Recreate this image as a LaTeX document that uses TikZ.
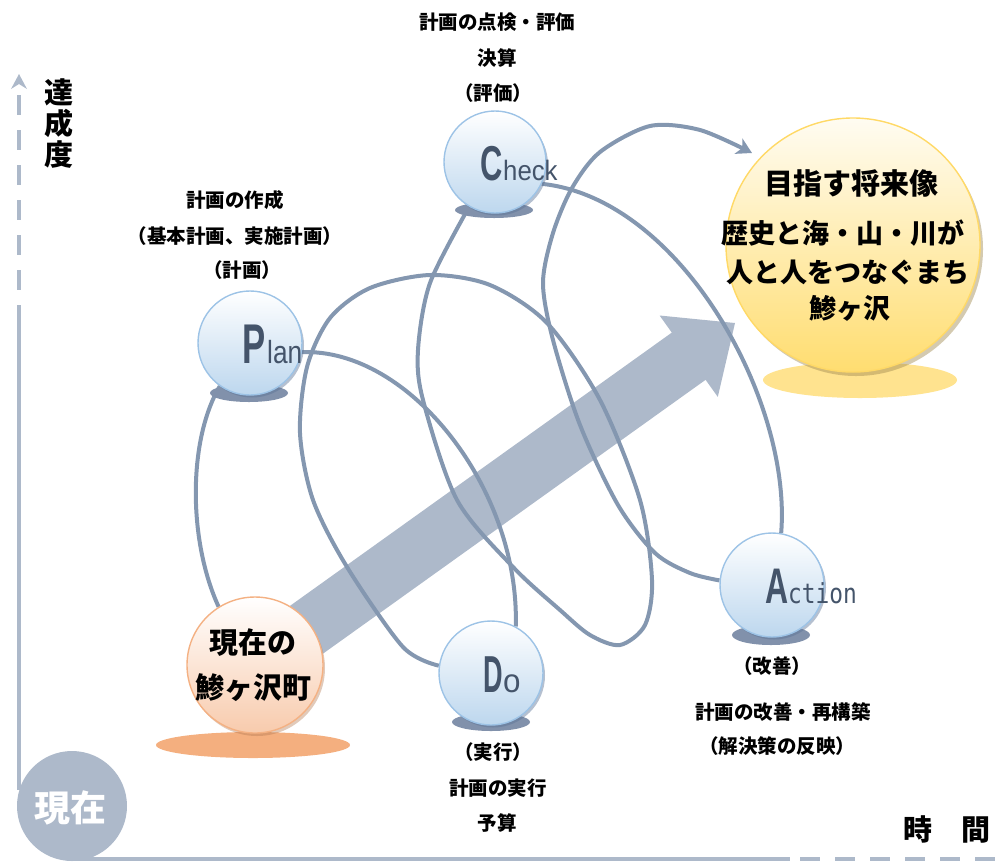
\documentclass[tikz,border=0pt]{standalone}
\usepackage{fontspec}
\usepackage{graphicx}
\newfontfamily\jp{Noto Sans CJK JP}
\newfontfamily\lat{Liberation Sans}
\newfontfamily\mono{DejaVu Sans Mono}
\usetikzlibrary{arrows.meta,shadows}
\definecolor{axisc}{HTML}{ADB9CA}
\definecolor{loopc}{HTML}{8497B0}
\definecolor{arrowc}{HTML}{ADB9CA}
\definecolor{shad}{HTML}{8191AB}
\definecolor{cirb}{HTML}{9DC3E6}
\definecolor{cirf}{HTML}{BDD7EE}
\definecolor{bshadow}{HTML}{5B7396}
\definecolor{txtc}{HTML}{44546A}
\definecolor{orgb}{HTML}{F4B183}
\definecolor{orgf}{HTML}{F8CBAD}
\definecolor{orgs}{HTML}{F4AF7F}
\definecolor{oshadow}{HTML}{B57A52}
\definecolor{yelb}{HTML}{FFD966}
\definecolor{yelf}{HTML}{FFDD70}
\definecolor{yels}{HTML}{FFE38F}
\definecolor{yshadow}{HTML}{A08A50}
\definecolor{yeltop}{HTML}{FFFCF2}
\begin{document}
\begin{tikzpicture}[x=1pt,y=-1pt,
  axisline/.style={draw=axisc, line width=4.5pt},
  loopline/.style={draw=loopc, line width=4pt},
  ball/.style={circle, inner sep=0pt, minimum size=#1, line width=1.4pt},
  blueball/.style={ball=#1, draw=cirb, top color=white, bottom color=cirf,
     drop shadow={shadow xshift=2pt, shadow yshift=-2.5pt, fill=bshadow, opacity=0.45}},
  lab/.style={inner sep=0pt, font=\jp\bfseries\fontsize{19.5}{22}\selectfont},
  bigletter/.style={anchor=base west, inner sep=0pt, text=txtc, font=\lat\bfseries\fontsize{#1}{#1}\selectfont},
  smallletter/.style={anchor=base west, inner sep=0pt, text=txtc, font=\lat\fontsize{#1}{#1}\selectfont},
]
\useasboundingbox (0,0) rectangle (1000,863);

% axes
\fill[axisc] (19,74) -- (27,89) -- (19,84) -- (11,89) -- cycle;
\draw[axisline, dash pattern=on 20pt off 15pt] (19,95) -- (19,320);
\draw[axisline] (19,320) -- (19,790);
\draw[axisline] (70,859) -- (790,859);
\draw[axisline, dash pattern=on 20pt off 15pt] (800,859) -- (1000,859);
\node[circle, fill=axisc, inner sep=0pt, minimum size=110pt] (now) at (72,806) {};
\node[text=white, inner sep=0pt, font=\jp\bfseries\fontsize{36}{36}\selectfont] (nowt) at (70,808) {現在};

\node[inner sep=0pt, align=center, font=\jp\bfseries\fontsize{29}{31}\selectfont] (ylab) at (59,124) {達\\成\\度};
\node[inner sep=0pt, font=\jp\bfseries\fontsize{29}{29}\selectfont] (xlab) at (947,829) {時　間};

% big arrow
\fill[arrowc] (249.0,635.2) -- (671.8,332.6) -- (659.6,315.5) -- (735,323) -- (717.8,396.9) -- (705.6,379.8) -- (282.8,682.4) -- cycle;

% circle nodes (positions needed for loops)
\path (250,343) node[ball=104pt] (plan) {};
\path (495,162) node[ball=102pt] (check) {};
\path (491,673) node[ball=104pt] (doo) {};
\path (772,585) node[ball=104pt] (act) {};
\path (255,665) node[ball=136pt] (cur) {};
\path (853,245) node[ball=254pt] (goal) {};
\coordinate (goalin) at (752,153);

% loops
\draw[loopline] (cur.122) .. controls (188,540) and (188,440) .. (plan.235);
\draw[loopline] (plan.-10) .. controls (410,348) and (520,490) .. (doo.62);
\draw[loopline] plot[smooth] coordinates {(doo.172) (403,647) (347,567) (313,500) (300,433) (307,367) (330,318) (370,288) (430,275) (490,285) (547,323) (600,400) (640,500) (652,580) (645,625) (620,645) (590,635) (560,610) (513,567) (457,500) (423,400) (418,350) (430,283) (check.240)};
\draw[loopline] (check.-25) .. controls (680,198) and (792,400) .. (act.80);
\draw[loopline, -{Stealth[length=15pt,width=17pt,inset=4pt]}] plot[smooth] coordinates {(act.175) (690,573) (655,553) (618,505) (580,425) (553,340) (543,283) (553,233) (572,188) (600,152) (650,126) (700,130) (goalin)};

% shadows
\fill[yels] (860,380) ellipse [x radius=97, y radius=18];
\fill[orgs] (253,745) ellipse [x radius=97, y radius=13];
\fill[shad] (249,393) ellipse [x radius=39, y radius=9];
\fill[shad] (494,210) ellipse [x radius=39, y radius=8];
\fill[shad] (771,635) ellipse [x radius=39, y radius=10];
\fill[shad] (491,722) ellipse [x radius=39, y radius=9];

% circles
\node[blueball=104pt] at (plan) {};
\node[blueball=102pt] at (check) {};
\node[blueball=104pt] at (doo) {};
\node[blueball=104pt] at (act) {};
\node[ball=136pt, draw=orgb, top color=white, bottom color=orgf,
   drop shadow={shadow xshift=2pt, shadow yshift=-3pt, fill=oshadow, opacity=0.4}] at (cur) {};
\node[ball=254pt, draw=yelb, top color=yeltop, bottom color=yelf,
   drop shadow={shadow xshift=3pt, shadow yshift=-4pt, fill=yshadow, opacity=0.45}] at (goal) {};

% letters
\node[bigletter=56] (pP) at (242,363) {\scalebox{0.62}[1]{P}};
\node[smallletter=32] (pl) at (267,363) {\scalebox{0.82}[1]{lan}};
\node[bigletter=49] (cC) at (480,180) {\scalebox{0.63}[1]{C}};
\node[smallletter=28] (ch) at (503,180) {\scalebox{0.92}[1]{heck}};
\node[bigletter=52] (dD) at (483,692) {\scalebox{0.52}[1]{D}};
\node[smallletter=33] (dq) at (503,692) {\scalebox{0.95}[1]{o}};
\node[bigletter=50] (aA) at (765,603) {\scalebox{0.64}[1]{A}};
\node[anchor=base west, inner sep=0pt, text=txtc, font=\mono\fontsize{27.5}{27.5}\selectfont] (ac) at (788,603) {\scalebox{0.83}[1]{ction}};

% texts in big circles
\node[inner sep=0pt, font=\jp\bfseries\fontsize{29}{29}\selectfont] (cur1) at (253,643) {現在の};
\node[inner sep=0pt, font=\jp\bfseries\fontsize{29}{29}\selectfont] (cur2) at (253,688) {鯵ヶ沢町};
\node[inner sep=0pt, font=\jp\bfseries\fontsize{29}{29}\selectfont] (g1) at (851,183) {目指す将来像};
\node[inner sep=0pt, font=\jp\bfseries\fontsize{27}{27}\selectfont] (g2) at (843,233) {歴史と海・山・川が};
\node[inner sep=0pt, font=\jp\bfseries\fontsize{27}{27}\selectfont] (g3) at (848,272) {人と人をつなぐまち};
\node[inner sep=0pt, font=\jp\bfseries\fontsize{27}{27}\selectfont] (g4) at (850,308) {鯵ヶ沢};

% labels
\node[lab] (lp1) at (235,200) {計画の作成};
\node[lab] (lp2) at (235,236) {（基本計画、実施計画）};
\node[lab] (lp3) at (242,270) {（計画）};
\node[lab] (lc1) at (497,22) {計画の点検・評価};
\node[lab] (lc2) at (497,58) {決算};
\node[lab] (lc3) at (493,93) {（評価）};
\node[lab] (la1) at (772,666) {（改善）};
\node[lab] (la2) at (783,712) {計画の改善・再構築};
\node[lab] (la3) at (777,746) {（解決策の反映）};
\node[lab] (ld1) at (493,752) {（実行）};
\node[lab] (ld2) at (498,788) {計画の実行};
\node[lab] (ld3) at (497,823) {予算};
\end{tikzpicture}
\end{document}
